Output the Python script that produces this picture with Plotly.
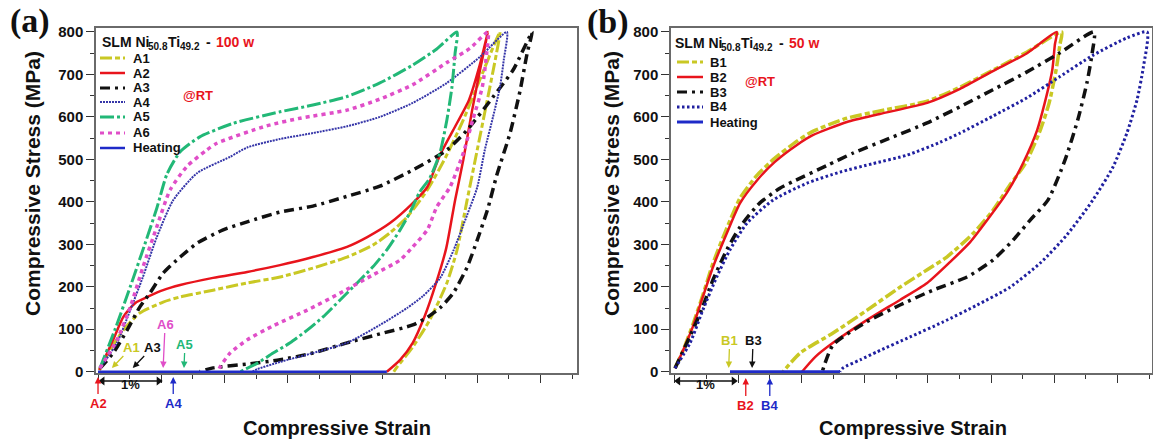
import plotly.graph_objects as go

W, H = 1153, 444

# ---------------- data: compressive strain (%) / compressive stress (MPa) ----------------
# Panel (a): SLM Ni50.8Ti49.2 - 100 w
A1_load_strain = [0.02, 0.19, 0.40, 0.66, 1.03, 1.30, 1.82, 2.36, 2.88, 3.40, 3.94, 4.35, 4.62, 4.89, 5.21, 5.50, 5.78, 6.04, 6.36]
A1_load_stress = [4, 51, 98, 138, 164, 176, 192, 209, 223, 244, 270, 298, 327, 364, 428, 505, 593, 687, 800]
A1_unload_strain = [6.36, 6.30, 6.20, 6.00, 5.84, 5.68, 5.52, 5.25, 4.98, 4.73, 4.68]
A1_unload_stress = [800, 746, 670, 522, 404, 286, 209, 122, 58, 11, 0]

A2_load_strain = [0.02, 0.24, 0.40, 0.59, 0.78, 1.03, 1.30, 1.82, 2.36, 2.88, 3.40, 3.94, 4.26, 4.62, 4.98, 5.21, 5.41, 5.62, 5.87, 6.04, 6.17]
A2_load_stress = [4, 75, 129, 162, 176, 192, 204, 221, 235, 251, 270, 294, 317, 350, 397, 435, 510, 569, 640, 722, 800]
A2_unload_strain = [6.17, 6.06, 5.92, 5.78, 5.65, 5.51, 5.35, 5.17, 4.98, 4.78, 4.57]
A2_unload_stress = [800, 722, 616, 499, 404, 291, 209, 131, 68, 28, 0]

A3_load_strain = [0.03, 0.24, 0.46, 0.66, 0.82, 1.03, 1.30, 1.57, 1.98, 2.36, 2.88, 3.40, 3.94, 4.46, 4.98, 5.52, 5.84, 6.25, 6.57, 6.87]
A3_load_stress = [8, 44, 98, 152, 185, 232, 270, 303, 334, 353, 376, 390, 413, 437, 475, 522, 569, 647, 711, 800]
A3_unload_strain = [6.87, 6.79, 6.68, 6.52, 6.31, 6.16, 6.00, 5.84, 5.62, 5.41, 5.21, 4.98, 4.46, 3.94, 3.40, 2.88, 2.36, 1.82, 1.61]
A3_unload_stress = [800, 750, 663, 562, 463, 380, 310, 246, 185, 150, 128, 110, 89, 68, 44, 28, 18, 9, 0]

A4_load_strain = [0.03, 0.30, 0.51, 0.71, 0.93, 1.19, 1.57, 2.09, 2.36, 2.88, 3.40, 3.94, 4.46, 4.98, 5.52, 6.04, 6.47]
A4_load_stress = [8, 68, 145, 223, 317, 404, 468, 506, 528, 548, 562, 578, 600, 633, 680, 741, 800]
A4_unload_strain = [6.47, 6.42, 6.36, 6.25, 6.12, 6.00, 5.84, 5.62, 5.41, 5.14, 4.89, 4.46, 3.94, 3.40, 2.88, 2.52, 2.44]
A4_unload_stress = [800, 734, 670, 600, 522, 434, 369, 284, 220, 178, 150, 110, 68, 44, 23, 6, 0]

A5_load_strain = [0.03, 0.27, 0.51, 0.74, 0.93, 1.09, 1.30, 1.61, 2.14, 2.88, 3.40, 3.94, 4.46, 4.98, 5.36, 5.68]
A5_load_stress = [8, 100, 200, 300, 385, 465, 518, 553, 585, 612, 628, 648, 680, 722, 760, 800]
A5_unload_strain = [5.68, 5.65, 5.60, 5.52, 5.41, 5.25, 5.09, 4.94, 4.78, 4.57, 4.35, 4.10, 3.83, 3.56, 3.31, 3.04, 2.77, 2.52, 2.25]
A5_unload_stress = [800, 750, 670, 593, 515, 456, 423, 376, 334, 287, 247, 209, 169, 129, 98, 68, 44, 20, 0]

A6_load_strain = [0.03, 0.30, 0.51, 0.71, 0.93, 1.14, 1.41, 1.72, 1.88, 2.67, 3.20, 3.94, 4.46, 4.98, 5.52, 5.89, 6.17]
A6_load_stress = [8, 75, 152, 246, 341, 428, 484, 522, 538, 579, 597, 616, 642, 676, 728, 762, 800]
A6_unload_strain = [6.17, 6.15, 6.08, 5.93, 5.78, 5.57, 5.36, 5.21, 4.98, 4.78, 4.35, 3.83, 3.31, 2.77, 2.36, 2.09, 1.93, 1.90]
A6_unload_stress = [800, 750, 670, 593, 515, 435, 388, 334, 294, 263, 228, 185, 145, 108, 75, 44, 11, 0]

A_heating_strain = [4.57, 0.0]
A_heating_stress = [0, 0]

# Panel (b): SLM Ni50.8Ti49.2 - 50 w
B1_load_strain = [0.0, 0.13, 0.28, 0.44, 0.60, 0.82, 1.03, 1.30, 1.58, 1.93, 2.18, 2.72, 3.24, 3.99, 4.51, 5.03, 5.57, 6.12]
B1_load_stress = [8, 51, 110, 180, 255, 338, 409, 463, 503, 543, 566, 597, 614, 637, 670, 710, 753, 800]
B1_unload_strain = [6.12, 6.09, 6.03, 5.92, 5.78, 5.55, 5.30, 5.03, 4.72, 4.30, 3.99, 3.56, 3.04, 2.50, 1.98, 1.71]
B1_unload_stress = [800, 770, 711, 633, 569, 492, 440, 380, 326, 270, 240, 199, 145, 91, 44, 0]

B2_load_strain = [0.0, 0.13, 0.28, 0.44, 0.60, 0.82, 1.03, 1.30, 1.58, 1.93, 2.18, 2.72, 3.24, 3.99, 4.51, 5.03, 5.57, 6.04]
B2_load_stress = [8, 51, 105, 176, 246, 326, 397, 451, 494, 534, 557, 588, 607, 633, 666, 708, 750, 800]
B2_unload_strain = [6.04, 6.01, 5.97, 5.85, 5.73, 5.51, 5.25, 4.94, 4.67, 4.35, 3.99, 3.56, 3.04, 2.50, 2.22, 2.01]
B2_unload_stress = [800, 770, 711, 633, 569, 492, 421, 357, 305, 258, 209, 169, 122, 68, 35, 0]

B3_load_strain = [0.0, 0.19, 0.40, 0.60, 0.82, 1.03, 1.34, 1.66, 1.87, 2.41, 2.82, 3.45, 3.99, 4.51, 5.03, 5.57, 6.09, 6.63]
B3_load_stress = [8, 68, 138, 216, 287, 341, 397, 432, 448, 486, 515, 553, 586, 624, 664, 706, 751, 800]
B3_unload_strain = [6.63, 6.60, 6.52, 6.38, 6.17, 5.90, 5.62, 5.35, 5.03, 4.62, 4.08, 3.56, 3.04, 2.50, 2.33]
B3_unload_stress = [800, 750, 682, 597, 498, 404, 357, 310, 263, 223, 192, 157, 118, 63, 0]

B4_load_strain = [0.0, 0.24, 0.44, 0.66, 0.87, 1.14, 1.55, 2.09, 2.61, 3.13, 3.67, 4.19, 4.51, 5.03, 5.57, 6.09, 6.61, 7.15, 7.47]
B4_load_stress = [8, 68, 145, 223, 287, 350, 404, 444, 470, 490, 510, 540, 562, 602, 645, 695, 745, 786, 800]
B4_unload_strain = [7.47, 7.41, 7.31, 7.15, 6.93, 6.61, 6.20, 5.78, 5.30, 4.78, 4.24, 3.72, 3.20, 2.93, 2.66, 2.61]
B4_unload_stress = [800, 717, 640, 562, 482, 404, 322, 256, 199, 157, 117, 82, 47, 28, 9, 0]

B_heating_strain = [2.61, 0.87]
B_heating_stress = [0, 0]

# recovery-end markers (strain %) for arrows
A_arrow_up = {"A1": 0.22, "A3": 0.55, "A6": 1.03, "A5": 1.36}
A_arrow_down = {"A2": 0.0, "A4": 1.19}
B_arrow_up = {"B1": 0.85, "B3": 1.22}
B_arrow_down = {"B2": 1.12, "B4": 1.50}

# 1 % strain scale bars (start, end in strain %)
A_scale_bar = [0.07, 0.96]
B_scale_bar = [0.05, 0.93]

# ---------------- styles ----------------
YEL = "#C9C824"
RED = "#E8141C"
BLK = "#111111"
NAVY = "#3535A8"
GRN = "#22B877"
MAG = "#E04EC8"
BLUE = "#1E2AC8"
FONT = "Liberation Sans, Arial, sans-serif"

styles = {
    "A1": dict(color=YEL, width=3, dash="12px,3px,5px,3px"),
    "A2": dict(color=RED, width=2.5, dash="solid"),
    "A3": dict(color=BLK, width=3.5, dash="10px,5px,3px,5px"),
    "A4": dict(color=NAVY, width=2, dash="2px,1px"),
    "A5": dict(color=GRN, width=3, dash="14px,3px,3px,3px"),
    "A6": dict(color=MAG, width=3.5, dash="4px,4px"),
    "AH": dict(color=BLUE, width=2.5, dash="solid"),
    "B1": dict(color=YEL, width=3.5, dash="12px,3px,5px,3px"),
    "B2": dict(color=RED, width=2.5, dash="solid"),
    "B3": dict(color=BLK, width=3.5, dash="10px,5px,3px,5px"),
    "B4": dict(color="#2020A0", width=3, dash="2.5px,2.5px"),
    "BH": dict(color=BLUE, width=3, dash="solid"),
}

fig = go.Figure()

def loop(ls, lp, us, up):
    return ls + us[1:], lp + up[1:]

seriesA = [
    ("A1", *loop(A1_load_strain, A1_load_stress, A1_unload_strain, A1_unload_stress)),
    ("A2", *loop(A2_load_strain, A2_load_stress, A2_unload_strain, A2_unload_stress)),
    ("A3", *loop(A3_load_strain, A3_load_stress, A3_unload_strain, A3_unload_stress)),
    ("A4", *loop(A4_load_strain, A4_load_stress, A4_unload_strain, A4_unload_stress)),
    ("A5", *loop(A5_load_strain, A5_load_stress, A5_unload_strain, A5_unload_stress)),
    ("A6", *loop(A6_load_strain, A6_load_stress, A6_unload_strain, A6_unload_stress)),
]
seriesB = [
    ("B1", *loop(B1_load_strain, B1_load_stress, B1_unload_strain, B1_unload_stress)),
    ("B2", *loop(B2_load_strain, B2_load_stress, B2_unload_strain, B2_unload_stress)),
    ("B3", *loop(B3_load_strain, B3_load_stress, B3_unload_strain, B3_unload_stress)),
    ("B4", *loop(B4_load_strain, B4_load_stress, B4_unload_strain, B4_unload_stress)),
]

for name, xs, ys in seriesA:
    fig.add_trace(go.Scatter(x=xs, y=ys, name=name, mode="lines", line=dict(shape="spline", smoothing=0.6, **styles[name]),
                             xaxis="x", yaxis="y", showlegend=False))
fig.add_trace(go.Scatter(x=A_heating_strain, y=A_heating_stress, name="Heating", mode="lines", line=styles["AH"],
                         xaxis="x", yaxis="y", showlegend=False))
for name, xs, ys in seriesB:
    fig.add_trace(go.Scatter(x=xs, y=ys, name=name, mode="lines", line=dict(shape="spline", smoothing=0.6, **styles[name]),
                             xaxis="x2", yaxis="y2", showlegend=False))
fig.add_trace(go.Scatter(x=B_heating_strain, y=B_heating_stress, name="Heating", mode="lines", line=styles["BH"],
                         xaxis="x2", yaxis="y2", showlegend=False))

# scale bars, drawn on hidden helper y-axes that share the strain axes (strip below the plots)
BAR_LEVEL = H - 381  # helper axes measure px up from the bottom of the figure
for bar, xa, ya in [(A_scale_bar, "x", "y3"), (B_scale_bar, "x2", "y4")]:
    fig.add_trace(go.Scatter(x=bar, y=[BAR_LEVEL, BAR_LEVEL], mode="lines+markers", name="1%",
                             line=dict(color=BLK, width=1.5),
                             marker=dict(symbol=["triangle-left", "triangle-right"], size=8, color=BLK),
                             cliponaxis=False, xaxis=xa, yaxis=ya, showlegend=False, hoverinfo="skip"))

# ---------------- axes ----------------
def xaxis_cfg(dom, rng, anchor):
    return dict(domain=dom, range=rng, anchor=anchor, showgrid=False, zeroline=False, automargin=False,
                showline=True, linecolor="#6a6a6a", linewidth=1.5, mirror=True,
                ticks="outside", tick0=0, dtick=1, ticklen=8, tickwidth=1.2, tickcolor="#333",
                showticklabels=False,
                minor=dict(ticks="outside", dtick=0.5, tick0=0, ticklen=4, tickwidth=1.2, tickcolor="#333"))

def yaxis_cfg(anchor):
    return dict(domain=[1 - 373 / H, 1 - 28 / H], range=[-3.06, 809.4], anchor=anchor, showgrid=False, zeroline=False,
                automargin=False,
                showline=True, linecolor="#6a6a6a", linewidth=1.5, mirror=True,
                ticks="outside", tick0=0, dtick=100, ticklen=8, tickwidth=1.2, tickcolor="#333",
                tickfont=dict(family=FONT, size=15, color="#111", weight="bold"),
                minor=dict(ticks="outside", dtick=50, tick0=0, ticklen=4, tickwidth=1.2, tickcolor="#333"))

def helper_y(anchor):
    return dict(domain=[0, 1 - 373 / H], range=[0, H - 373], anchor=anchor, visible=False,
                showgrid=False, zeroline=False, automargin=False, fixedrange=True)

fig.update_layout(
    xaxis=xaxis_cfg([96 / W, 577 / W], [-0.032, 7.579], "y"),
    yaxis=yaxis_cfg("x"),
    xaxis2=xaxis_cfg([671 / W, 1152 / W], [-0.063, 7.547], "y2"),
    yaxis2=yaxis_cfg("x2"),
    yaxis3=helper_y("x"),
    yaxis4=helper_y("x2"),
)

annotations = []
shapes = []

def P(x, y):
    return x / W, 1 - y / H

def txt(x, y, text, size=13, color="#111", xanchor="center", family=FONT, angle=0, bold=True):
    px_, py_ = P(x, y)
    annotations.append(dict(x=px_, y=py_, xref="paper", yref="paper", text=text, showarrow=False,
                            xanchor=xanchor, yanchor="middle", textangle=angle,
                            font=dict(family=family, size=size, color=color, weight="bold" if bold else "normal")))

# panel labels, axis titles, notes
txt(30, 21, "(a)", size=34, family="Liberation Serif, Times New Roman, serif")
txt(608, 22, "(b)", size=34, family="Liberation Serif, Times New Roman, serif")
txt(337, 428, "Compressive Strain", size=20)
txt(913, 428, "Compressive Strain", size=20)
txt(32, 184, "Compressive Stress (MPa)", size=21, angle=-90)
txt(611, 184, "Compressive Stress (MPa)", size=21, angle=-90)
txt(198, 95, "@RT", size=13, color=RED)
txt(760, 81, "@RT", size=13, color=RED)

# legend titles: SLM Ni50.8Ti49.2 - xx w  (pieces so subscripts are real, sized text)
def legend_title(x0, y0, power):
    parts = [(0, "SLM Ni", 14, BLK, 0), (46, "50.8", 10, BLK, 4), (66, "Ti", 14, BLK, 0),
             (78, "49.2", 10, BLK, 4), (104, "-", 14, BLK, 0), (114, power, 14, RED, 0)]
    for dx, t, s, c, dy in parts:
        txt(x0 + dx, y0 + dy, t, size=s, color=c, xanchor="left")

legend_title(100, 42, "100 w")
legend_title(673, 43, "50 w")

legA = [("A1", 58), ("A2", 73), ("A3", 88), ("A4", 102), ("A5", 117), ("A6", 133), ("Heating", 148)]
legB = [("B1", 62), ("B2", 77), ("B3", 92), ("B4", 107), ("Heating", 122)]
for name, yy in legA:
    st = styles["AH" if name == "Heating" else name]
    x0, y0 = P(100, yy)
    x1, _ = P(125, yy)
    shapes.append(dict(type="line", xref="paper", yref="paper", x0=x0, x1=x1, y0=y0, y1=y0,
                       line=dict(color=st["color"], width=min(st["width"], 3), dash=st["dash"])))
    txt(131, yy, name, size=13, xanchor="left")
for name, yy in legB:
    st = styles["BH" if name == "Heating" else name]
    x0, y0 = P(677, yy)
    x1, _ = P(703, yy)
    shapes.append(dict(type="line", xref="paper", yref="paper", x0=x0, x1=x1, y0=y0, y1=y0,
                       line=dict(color=st["color"], width=min(st["width"], 3), dash=st["dash"])))
    txt(708, yy, name, size=13, xanchor="left")

# arrows marking recovery ends
label_colors = {"A1": YEL, "A2": RED, "A3": BLK, "A4": BLUE, "A5": GRN, "A6": MAG,
                "B1": YEL, "B2": RED, "B3": BLK, "B4": BLUE}
up_offsets = {"A1": (20, -21), "A3": (20, -21), "A6": (2, -44), "A5": (1, -24), "B1": (1, -28), "B3": (1, -28)}

def arrow(xref, xval, yp, text, color, ax, ay):
    annotations.append(dict(x=xval, y=1 - yp / H, xref=xref, yref="paper", text=text, showarrow=True,
                            ax=ax, ay=ay, axref="pixel", ayref="pixel",
                            arrowhead=2, arrowsize=1, arrowwidth=1.3, arrowcolor=color,
                            font=dict(family=FONT, size=13, color=color, weight="bold")))

for name, xv in A_arrow_up.items():
    arrow("x", xv, 368, name, label_colors[name], *up_offsets[name])
for name, xv in A_arrow_down.items():
    arrow("x", xv, 377, name, label_colors[name], 0, 26)
for name, xv in B_arrow_up.items():
    arrow("x2", xv, 368, name, label_colors[name], *up_offsets[name])
for name, xv in B_arrow_down.items():
    arrow("x2", xv, 378, name, label_colors[name], 0, 27)

# "1%" labels under the scale bars
for xref, bar in [("x", A_scale_bar), ("x2", B_scale_bar)]:
    annotations.append(dict(x=(bar[0] + bar[1]) / 2, y=1 - 394 / H, xref=xref, yref="paper", text="1%", showarrow=False,
                            font=dict(family=FONT, size=13, color=BLK, weight="bold")))

fig.update_layout(
    width=W, height=H, autosize=False,
    margin=dict(l=0, r=0, t=0, b=0, pad=0),
    paper_bgcolor="white", plot_bgcolor="white",
    showlegend=False,
    annotations=annotations, shapes=shapes,
    font=dict(family=FONT, color="#111"),
)

fig.write_html("out.html", config={"displayModeBar": False},
               post_script="document.body.style.margin='0';document.body.style.overflow='hidden';")
